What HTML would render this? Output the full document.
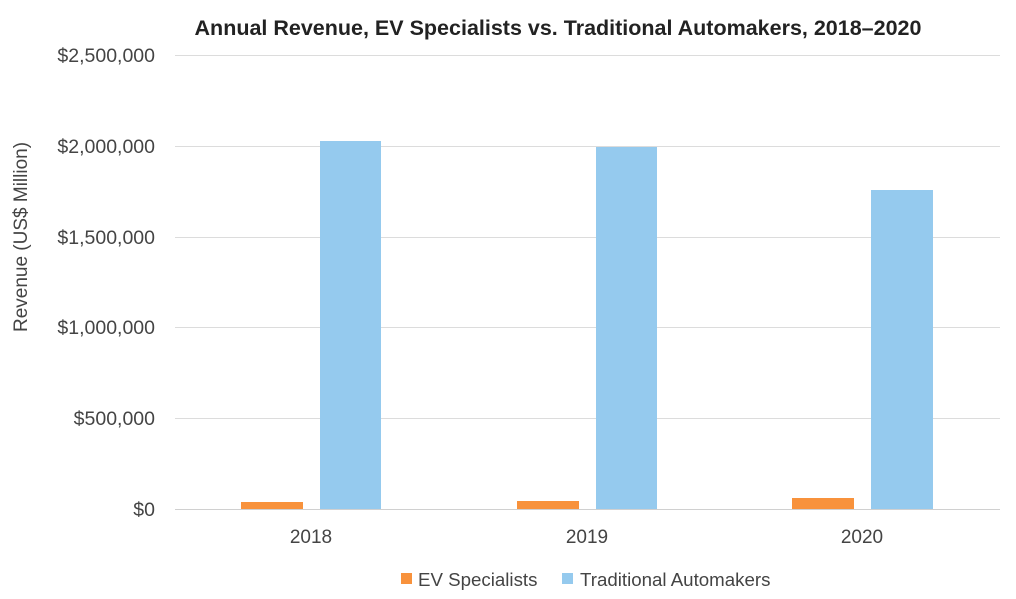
<!DOCTYPE html>
<html><head><meta charset="utf-8"><style>body{margin:0;background:#fff}svg{display:block}text{font-family:"Liberation Sans",sans-serif}</style></head><body>
<svg width="1016" height="599" viewBox="0 0 1016 599">
<text x="558" y="35" text-anchor="middle" font-size="21.5" font-weight="bold" fill="#222">Annual Revenue, EV Specialists vs. Traditional Automakers, 2018–2020</text>
<g stroke="#dcdcdc" stroke-width="1">
<line x1="175" y1="55.5" x2="1000" y2="55.5"/>
<line x1="175" y1="146.5" x2="1000" y2="146.5"/>
<line x1="175" y1="237.5" x2="1000" y2="237.5"/>
<line x1="175" y1="327.5" x2="1000" y2="327.5"/>
<line x1="175" y1="418.5" x2="1000" y2="418.5"/>
</g>
<g font-size="19.5" fill="#444" text-anchor="end">
<text x="155" y="62">$2,500,000</text>
<text x="155" y="153">$2,000,000</text>
<text x="155" y="244">$1,500,000</text>
<text x="155" y="334">$1,000,000</text>
<text x="155" y="425">$500,000</text>
<text x="155" y="516">$0</text>
</g>
<text transform="translate(27,237) rotate(-90)" text-anchor="middle" font-size="19" fill="#444">Revenue (US$ Million)</text>
<g fill="#f8923c">
<rect x="241" y="502" width="62" height="7"/>
<rect x="517" y="501" width="62" height="8"/>
<rect x="792" y="498" width="62" height="11"/>
</g>
<g fill="#95caee">
<rect x="320" y="141" width="61" height="368"/>
<rect x="596" y="147" width="61" height="362"/>
<rect x="871" y="190" width="62" height="319"/>
</g>
<line x1="175" y1="509.5" x2="1000" y2="509.5" stroke="#d0d0d0" stroke-width="1"/>
<g font-size="19" fill="#444" text-anchor="middle">
<text x="311" y="543">2018</text>
<text x="587" y="543">2019</text>
<text x="862" y="543">2020</text>
</g>
<rect x="401" y="573" width="11" height="11" fill="#f8923c"/>
<text x="418" y="586" font-size="18.7" fill="#444">EV Specialists</text>
<rect x="562" y="573" width="11" height="11" fill="#95caee"/>
<text x="580" y="586" font-size="18.7" fill="#444">Traditional Automakers</text>
</svg>
</body></html>
